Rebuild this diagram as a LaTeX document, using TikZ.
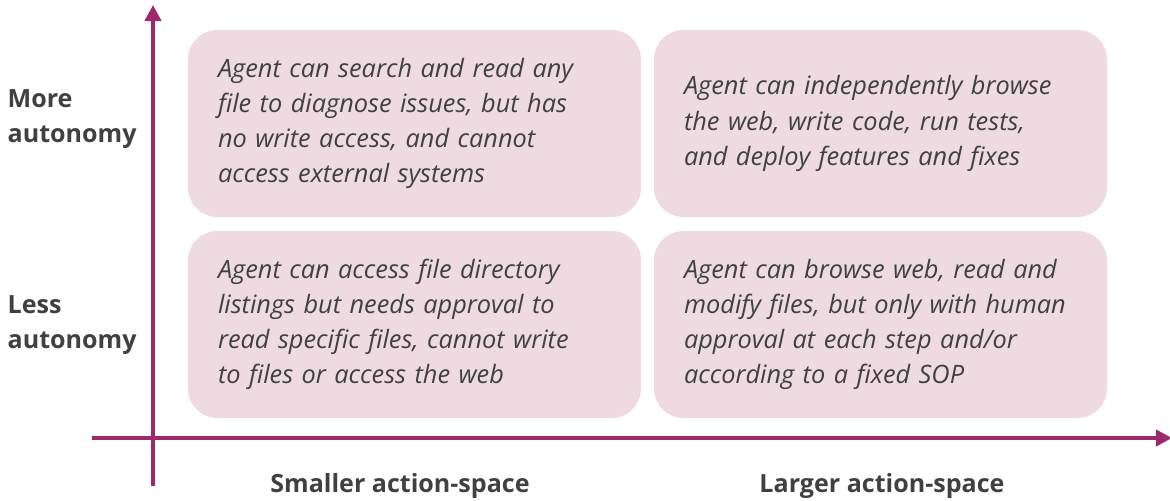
\documentclass[tikz,border=0pt]{standalone}
\usepackage{fontspec}
\setmainfont{Open Sans}
\usetikzlibrary{arrows.meta}
\definecolor{axiscol}{RGB}{158,40,108}
\definecolor{boxcol}{RGB}{237,219,225}
\definecolor{txtcol}{RGB}{64,64,64}
\begin{document}
\begin{tikzpicture}[x=0.75pt, y=-0.75pt,
	quad/.style={fill=boxcol, rounded corners=22pt, minimum width=339.75pt, minimum height=140.25pt,
		inner xsep=22.5pt, text width=294.75pt, align=left, text=txtcol,
		font=\fontsize{19}{26.4}\selectfont\itshape},
	lbl/.style={text=txtcol, align=left, font=\fontsize{18.8}{26.4}\selectfont\bfseries},
	axis/.style={draw=axiscol, line width=3pt, -{Triangle[length=12pt, width=12pt]}}]
	\useasboundingbox (0,0) rectangle (1170,500);

	% Quadrants
	\node[quad] (ul) at (414.5,123.5) {Agent can search and read any\\file to diagnose issues, but has\\no write access, and cannot\\access external systems};
	\node[quad] (ur) at (880.5,123.5) {Agent can independently browse\\the web, write code, run tests,\\and deploy features and fixes};
	\node[quad] (ll) at (414.5,324.5) {Agent can access file directory\\listings but needs approval to\\read specific files, cannot write\\to files or access the web};
	\node[quad] (lr) at (880.5,324.5) {Agent can browse web, read and\\modify files, but only with human\\approval at each step and/or\\according to a fixed SOP};

	% Axes
	\coordinate (ybot) at (153,486);
	\coordinate (ytop) at (153,5);
	\coordinate (xleft) at (92,438);
	\coordinate (xright) at (1172,438);
	\draw[axis] (ybot) -- (ytop);
	\draw[axis] (xleft) -- (xright);

	% Labels
	\node[lbl, anchor=west] (more) at (3,119) {More\\autonomy};
	\node[lbl, anchor=west] (less) at (3,325) {Less\\autonomy};
	\node[lbl] (small) at (400,486) {Smaller action-space};
	\node[lbl] (large) at (882,486) {Larger action-space};
\end{tikzpicture}
\end{document}
